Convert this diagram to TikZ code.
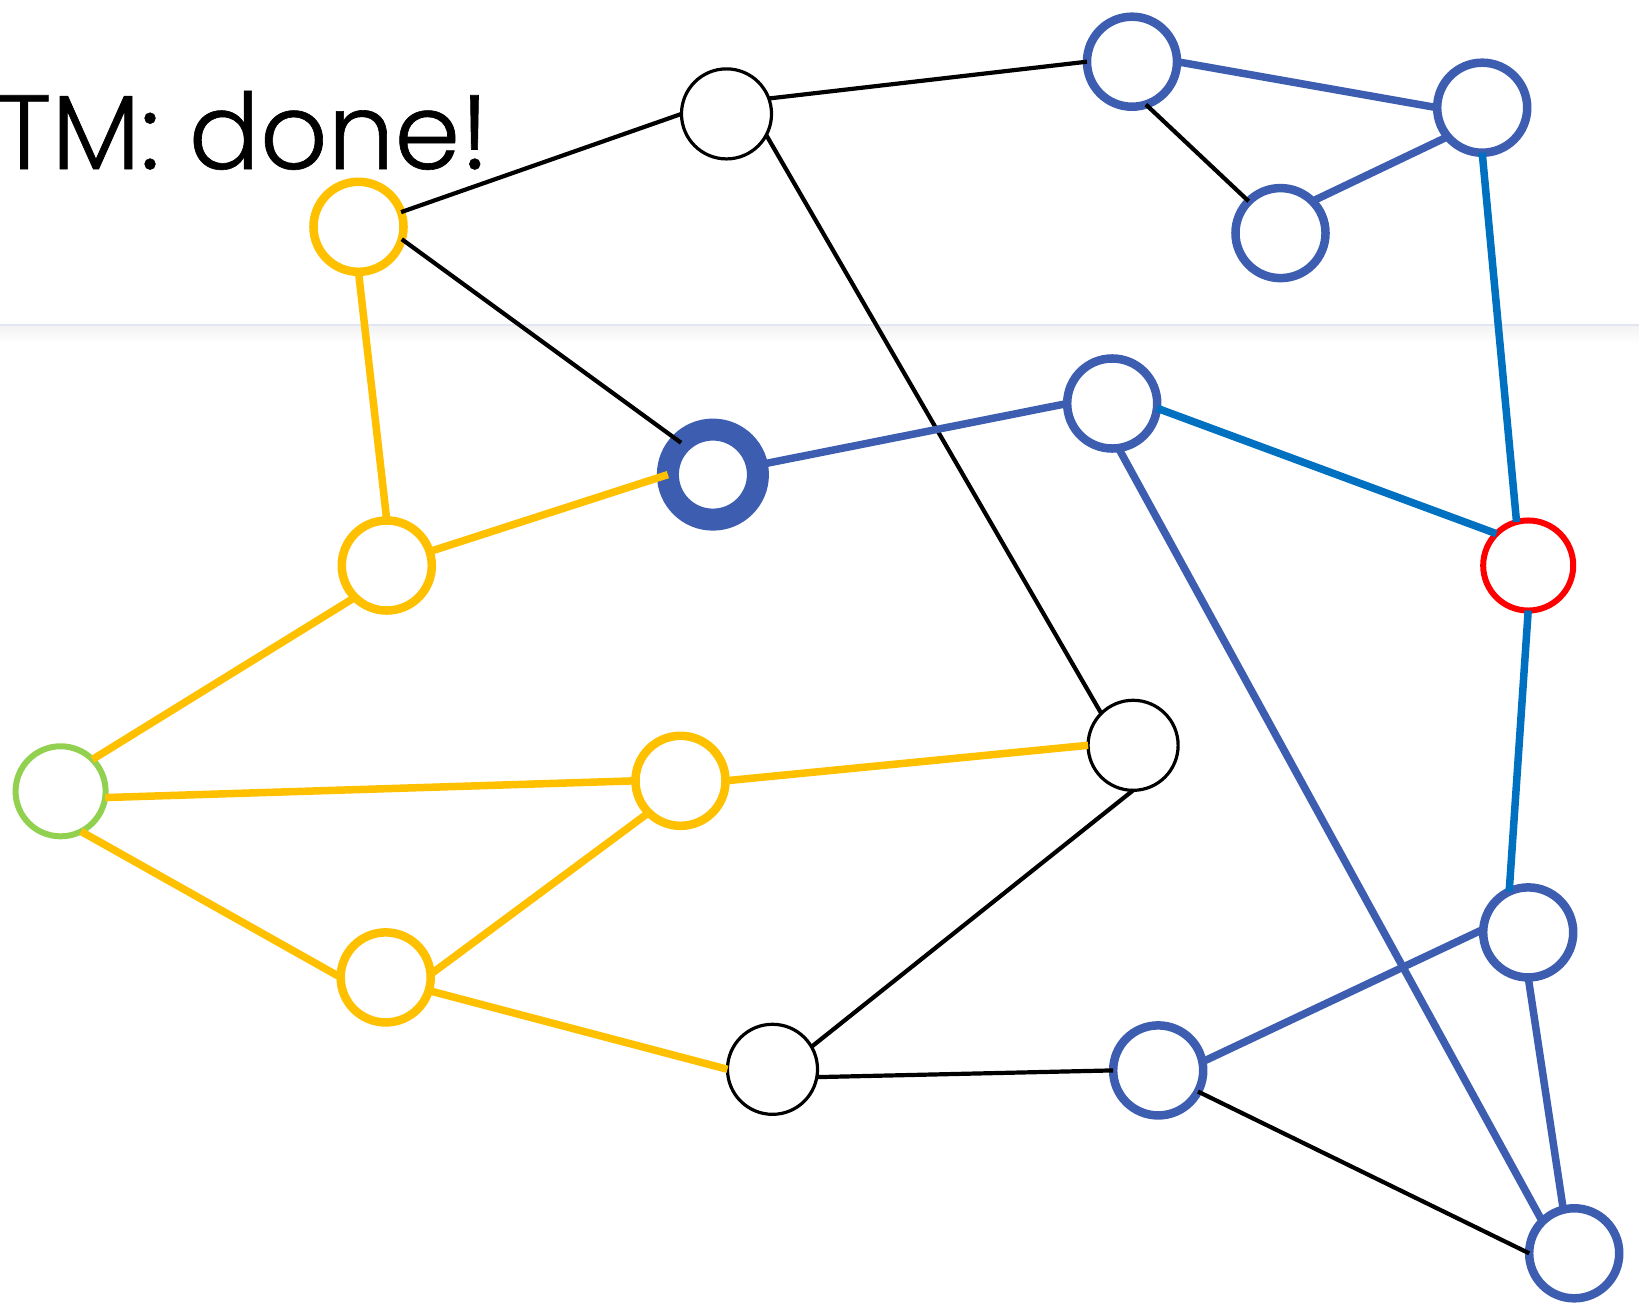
\documentclass[tikz,border=0pt]{standalone}
\usepackage{fontspec}
\usepackage{tikz}
\newfontfamily\headfont{Poppins}[UprightFont=* Light, FakeBold=0.6]
\definecolor{ringblue}{RGB}{60,93,176}
\definecolor{pathblue}{RGB}{0,112,192}
\definecolor{pathyellow}{RGB}{255,192,0}
\definecolor{startgreen}{RGB}{146,208,80}
\definecolor{rulegray}{RGB}{226,230,240}
\tikzset{
  vertex/.style={circle, draw=black, fill=white, minimum size=0.9cm,
    inner sep=0pt, outer sep=0pt, line width=0.32mm},
  marked/.style={vertex, line width=0.85mm},
  current/.style={vertex, draw=ringblue, line width=2.2mm},
  link/.style={line width=0.42mm, black},
  ylink/.style={line width=0.75mm, pathyellow},
  blink/.style={line width=0.75mm, ringblue},
  clink/.style={line width=0.75mm, pathblue},
}

\begin{document}
\begin{tikzpicture}[x=0.01cm, y=-0.01cm]
  \useasboundingbox (0,0) rectangle (1639,1312);
  \shade[top color=black!5, bottom color=white] (0,325) rectangle (1639,343);
  \draw[rulegray, line width=0.2mm] (0,324.5) -- (1639,324.5);
  \node[anchor=base west, inner sep=0pt, font=\headfont\fontsize{30}{36}\selectfont] (title) at (-4,169) {TM: done!};

  \node[marked, draw=pathyellow] (a) at (358.5,226.8) {};
  \node[vertex] (b) at (726.5,113.9) {};
  \node[marked, draw=ringblue] (c) at (1132.0,61.7) {};
  \node[marked, draw=ringblue] (d) at (1482.2,107.7) {};
  \node[marked, draw=ringblue] (e) at (1280.5,233.1) {};
  \node[current] (f) at (712.9,474.6) {};
  \node[marked, draw=ringblue] (g) at (1112.2,403.5) {};
  \node[vertex, draw=red, line width=0.6mm] (h) at (1528.2,565.5) {};
  \node[marked, draw=pathyellow] (i) at (386.8,565.5) {};
  \node[vertex, draw=startgreen, line width=0.6mm] (j) at (60.6,791.3) {};
  \node[marked, draw=pathyellow] (k) at (680.5,780.8) {};
  \node[vertex] (l) at (1133.1,745.3) {};
  \node[marked, draw=pathyellow] (m) at (385.7,977.4) {};
  \node[vertex] (n) at (772.5,1069.3) {};
  \node[marked, draw=ringblue] (o) at (1158.2,1070.4) {};
  \node[marked, draw=ringblue] (p) at (1528.2,932.4) {};
  \node[marked, draw=ringblue] (q) at (1574.2,1253.3) {};

  \draw[link] (a.19) -- (b.west);
  \draw[link] (a.-16) -- (f.north west);
  \draw[ylink] (a.south) -- (i.north);
  \draw[link] (b.20) -- (c.west);
  \draw[link] (b.-28) -- (l.north west);
  \draw[blink] (c.east) -- (d.west);
  \draw[link] (c.-72) -- (e.north west);
  \draw[blink] (e.45) -- (d.220);
  \draw[clink] (d.south) -- (h.105);
  \draw[blink] (f.12) -- (g.west);
  \draw[ylink] (i.18) -- (f.west);
  \draw[clink] (g.-6) -- (h.north west);
  \draw[blink] (g.-82) -- (q.north west);
  \draw[clink] (h.south) -- (p.115);
  \draw[ylink] (i.south west) -- (j.north east);
  \draw[ylink] (j.-8) -- (k.west);
  \draw[ylink] (j.-63) -- (m.west);
  \draw[ylink] (k.east) -- (l.west);
  \draw[ylink] (m.4) -- (k.south west);
  \draw[ylink] (m.-17) -- (n.west);
  \draw[link] (l.south) -- (n.30);
  \draw[link] (n.-10) -- (o.west);
  \draw[blink] (o.11) -- (p.176);
  \draw[link] (o.-28) -- (q.west);
  \draw[blink] (p.south) -- (q.104);
\end{tikzpicture}
\end{document}
